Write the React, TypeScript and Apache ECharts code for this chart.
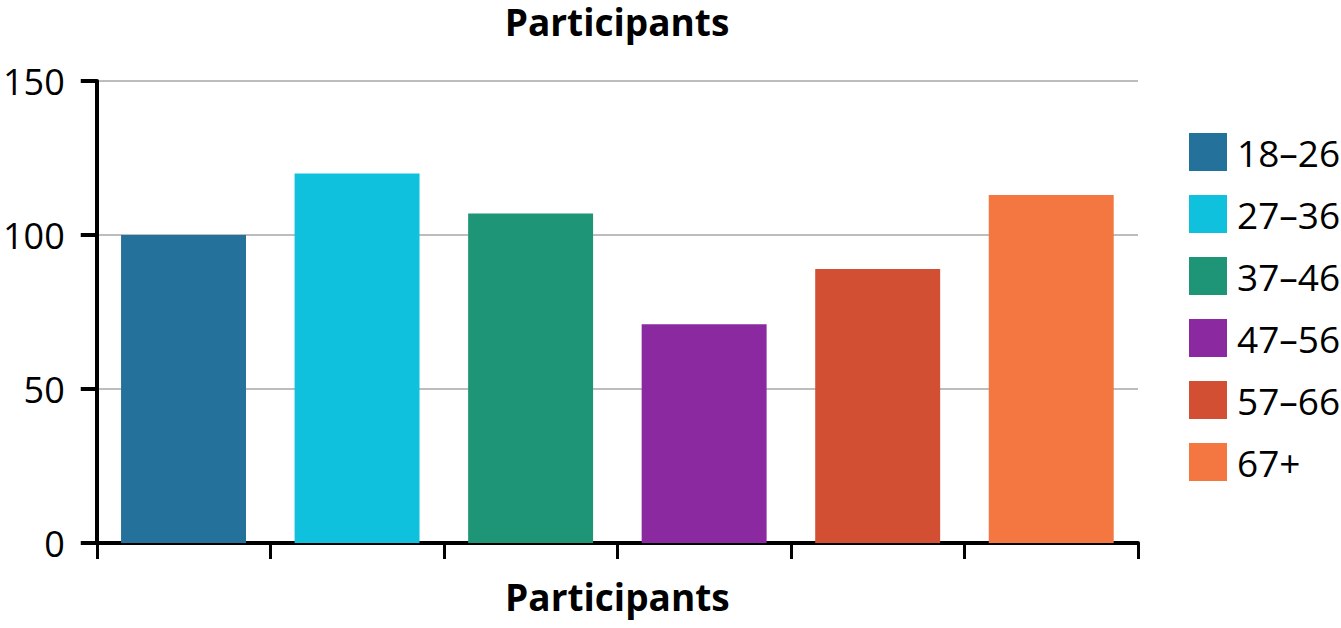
import { useEffect, useRef } from 'react'
import * as echarts from 'echarts'

// Participants by age group — single bar per group, legend on the right

const CATEGORIES = ['18–26', '27–36', '37–46', '47–56', '57–66', '67+']
const VALUES = [100, 120, 107, 71, 89, 113]
const COLORS = ['#24729c', '#0fc1dc', '#1f9577', '#8b29a0', '#d24f33', '#f47742']
const Y_TICKS = [0, 50, 100, 150]

const FONT = '"Open Sans", "Noto Sans", sans-serif'

export default function App() {
  const ref = useRef<HTMLDivElement>(null)

  useEffect(() => {
    if (!ref.current) return
    const chart = echarts.init(ref.current, undefined, { renderer: 'svg' })

    // one series per age group, stacked so each bar takes the full band
    const series = CATEGORIES.map((name, i) => ({
      name,
      type: 'bar' as const,
      stack: 'all',
      barCategoryGap: '28%',
      itemStyle: { color: COLORS[i] },
      data: CATEGORIES.map((_, j) => (j === i ? VALUES[i] : '-')),
    }))

    chart.setOption({
      animation: false,
      textStyle: { fontFamily: FONT },
      title: {
        text: 'Participants',
        left: 617,
        textAlign: 'center',
        top: 3,
        padding: 0,
        textStyle: { fontSize: 37, fontWeight: 'bold', color: '#000', fontFamily: FONT },
      },
      legend: {
        orient: 'vertical',
        left: 1189,
        top: 133,
        padding: 0,
        icon: 'rect',
        itemWidth: 38,
        itemHeight: 38,
        itemGap: 24,
        textStyle: { fontSize: 37, color: '#000', fontFamily: FONT, padding: [0, 0, 0, 5] },
        data: CATEGORIES,
      },
      grid: { left: 96, right: 203, top: 81, bottom: 85, containLabel: false },
      xAxis: {
        type: 'category',
        data: CATEGORIES,
        name: 'Participants',
        nameLocation: 'middle',
        nameGap: 35,
        nameTextStyle: { fontSize: 37, fontWeight: 'bold', color: '#000', fontFamily: FONT },
        axisLine: { lineStyle: { color: '#000', width: 4 } },
        axisTick: { show: true, length: 16, lineStyle: { color: '#000', width: 3 } },
        axisLabel: { show: false },
      },
      yAxis: {
        type: 'value',
        min: Y_TICKS[0],
        max: Y_TICKS[Y_TICKS.length - 1],
        interval: 50,
        axisLine: { show: true, lineStyle: { color: '#000', width: 4 } },
        axisTick: { show: true, length: 16, lineStyle: { color: '#000', width: 4 } },
        axisLabel: { color: '#000', fontSize: 36, margin: 32, fontFamily: FONT },
        splitLine: { lineStyle: { color: '#bdbdbd', width: 2 } },
      },
      series,
    })

    return () => chart.dispose()
  }, [])

  return (
    <div
      ref={ref}
      style={{ position: 'fixed', left: 0, top: 0, width: 1341, height: 628, background: '#fff' }}
    />
  )
}
